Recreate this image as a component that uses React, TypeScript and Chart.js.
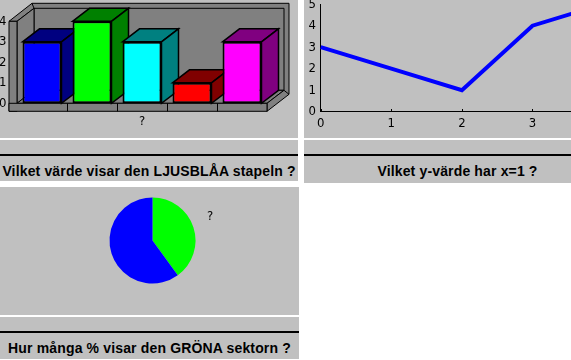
import React, { useEffect, useRef } from "react";
import { Chart, registerables } from "chart.js";
Chart.register(...registerables);

// ---------- data ----------
const barCategories = ["A", "B", "C", "D", "E"];
const barValues = [3, 4, 3, 1, 3];
const barFrontColors = ["#0000ff", "#00ff00", "#00ffff", "#ff0000", "#ff00ff"];
const barDepthColors = ["#000080", "#008000", "#008080", "#800000", "#800080"];
const barAxisTitle = "?";

const lineLabels = ["0", "1", "2", "3", "4"];
const lineValues = [3, 2, 1, 4, 5];

const pieLabels = ["Grön", "Blå"];
const pieValues = [40, 60];
const pieColors = ["#00ff00", "#0000ff"];
const pieLabelText = "?";

const questionBar = "Vilket värde visar den LJUSBLÅA stapeln ?";
const questionLine = "Vilket y-värde har x=1 ?";
const questionPie = "Hur många % visar den GRÖNA sektorn ?";

// ---------- styling ----------
const GRAY = "#c0c0c0";
const WALL = "#808080";
const TICK_FONT = { family: '"Liberation Sans Narrow", "DejaVu Sans Condensed", "Liberation Sans", sans-serif', size: 13 };
const DX = 17;
const DY = 13;
const SLAB = 8;

const frame3d = {
  id: "frame3d",
  beforeDatasetsDraw(chart: any) {
    const { ctx } = chart;
    const { left: L, right: R, top: T, bottom: B } = chart.chartArea;
    const poly = (pts: number[][], fill: string, lw = 1) => {
      ctx.beginPath();
      pts.forEach(([x, y], i) => (i ? ctx.lineTo(x, y) : ctx.moveTo(x, y)));
      ctx.closePath();
      ctx.fillStyle = fill;
      ctx.fill();
      ctx.lineWidth = lw;
      ctx.strokeStyle = "#000";
      ctx.stroke();
    };
    ctx.save();
    // back wall (outer rim and inner face)
    poly([[L + DX - 2, T - DY - 5], [R + DX + 5, T - DY - 5], [R + DX + 5, B - DY + 4], [L + DX - 2, B - DY + 4]], WALL);
    poly([[L + DX, T - DY], [R + DX, T - DY], [R + DX, B - DY], [L + DX, B - DY]], WALL);
    // left wall
    poly([[L - SLAB, T], [L + DX - 2, T - DY - 5], [L + DX, T - DY], [L, T]], WALL);
    poly([[L, T], [L + DX, T - DY], [L + DX, B - DY], [L, B]], WALL);
    poly([[L - SLAB, T], [L, T], [L, B + SLAB], [L - SLAB, B + SLAB]], WALL);
    // floor
    poly([[L, B], [L + DX, B - DY], [R + DX, B - DY], [R, B]], WALL);
    poly([[R, B], [R + DX, B - DY], [R + DX + 5, B - DY + 4], [R, B + SLAB]], WALL);
    poly([[L - SLAB, B], [R, B], [R, B + SLAB], [L - SLAB, B + SLAB]], WALL);
    const xs = chart.scales.x;
    ctx.beginPath();
    for (let i = 0; i < barValues.length - 1; i++) {
      const px = Math.round((xs.getPixelForValue(i) + xs.getPixelForValue(i + 1)) / 2) + 0.5;
      ctx.moveTo(px, B);
      ctx.lineTo(px, B + SLAB);
    }
    ctx.lineWidth = 1;
    ctx.stroke();
    // bar depth faces
    const meta = chart.getDatasetMeta(0);
    meta.data.forEach((bar: any, i: number) => {
      const { x, y, width, base } = bar.getProps(["x", "y", "width", "base"], true);
      const xl = x - width / 2;
      const xr = x + width / 2;
      poly([[xl, y], [xl + DX, y - DY], [xr + DX, y - DY], [xr, y]], barDepthColors[i], 1.5);
      poly([[xr, y], [xr + DX, y - DY], [xr + DX, base - DY], [xr, base]], barDepthColors[i], 1.5);
    });
    ctx.restore();
  },
};

const innerTicks = {
  id: "innerTicks",
  afterDraw(chart: any) {
    const { ctx } = chart;
    const xs = chart.scales.x;
    const b = Math.round(chart.chartArea.bottom);
    ctx.save();
    ctx.strokeStyle = "#000";
    ctx.lineWidth = 1;
    ctx.beginPath();
    xs.ticks.forEach((_t: any, i: number) => {
      const px = Math.round(xs.getPixelForTick(i)) + 0.5;
      ctx.moveTo(px, b);
      ctx.lineTo(px, b - 3);
    });
    ctx.stroke();
    ctx.restore();
  },
};

function BarChart() {
  const ref = useRef<HTMLCanvasElement>(null);
  useEffect(() => {
    const chart = new Chart(ref.current!, {
      type: "bar",
      data: {
        labels: barCategories,
        datasets: [
          {
            data: barValues,
            backgroundColor: barFrontColors,
            borderColor: "#000",
            borderWidth: 2,
            borderSkipped: false,
            barPercentage: 0.78,
            categoryPercentage: 1,
          },
        ],
      },
      options: {
        responsive: false,
        animation: false,
        devicePixelRatio: 1,
        layout: { padding: { top: 21.3, right: 31, left: 0, bottom: 0 } },
        plugins: { legend: { display: false }, tooltip: { enabled: false } },
        scales: {
          x: {
            grid: { display: false },
            border: { display: false },
            ticks: { display: false },
            title: { display: true, text: barAxisTitle, color: "#000", font: TICK_FONT, padding: { top: 0, bottom: 8.2 } },
            afterFit: (s: any) => { s.height = 34.7; },
          },
          y: {
            min: 0,
            max: 4,
            grid: { display: false, drawTicks: false },
            border: { display: false },
            ticks: { stepSize: 1, color: "#000", font: TICK_FONT, padding: 10.5 },
            afterFit: (s: any) => { s.width = 17; s.paddingTop = 0; s.paddingBottom = 0; },
          },
        },
      },
      plugins: [frame3d],
    } as any);
    return () => chart.destroy();
  }, []);
  return <canvas ref={ref} width={298} height={138} style={{ display: "block" }} />;
}

function LineChart() {
  const ref = useRef<HTMLCanvasElement>(null);
  useEffect(() => {
    const chart = new Chart(ref.current!, {
      type: "line",
      data: {
        labels: lineLabels,
        datasets: [
          {
            data: lineValues,
            borderColor: "#0000ff",
            borderWidth: 4,
            pointRadius: 0,
            tension: 0,
            fill: false,
          },
        ],
      },
      options: {
        responsive: false,
        animation: false,
        devicePixelRatio: 1,
        layout: { padding: { top: 4.2, right: 7.9, left: 0, bottom: 0 } },
        plugins: { legend: { display: false }, tooltip: { enabled: false } },
        scales: {
          x: {
            offset: false,
            grid: { display: false, drawTicks: false },
            border: { display: true, color: "#000", width: 1 },
            ticks: { color: "#000", font: TICK_FONT, padding: 3.8, maxRotation: 0, autoSkip: false },
            afterFit: (s: any) => { s.height = 26.3; s.paddingLeft = 0; s.paddingRight = 0; },
          },
          y: {
            min: 0,
            max: 5,
            grid: { display: false, drawTicks: false },
            border: { display: true, color: "#000", width: 1 },
            ticks: { stepSize: 1, color: "#000", font: TICK_FONT, padding: 4.7 },
            afterFit: (s: any) => { s.width = 16.7; s.paddingTop = 0; s.paddingBottom = 0; },
          },
        },
      },
      plugins: [innerTicks],
    } as any);
    return () => chart.destroy();
  }, []);
  return <canvas ref={ref} width={307} height={138} style={{ display: "block" }} />;
}

function PieChart() {
  const ref = useRef<HTMLCanvasElement>(null);
  useEffect(() => {
    const chart = new Chart(ref.current!, {
      type: "pie",
      data: {
        labels: pieLabels,
        datasets: [
          {
            data: pieValues,
            backgroundColor: pieColors,
            borderWidth: 0,
            hoverOffset: 0,
          },
        ],
      },
      options: {
        responsive: false,
        animation: false,
        devicePixelRatio: 1,
        radius: 43,
        layout: { padding: { left: 6, right: 0, top: 0, bottom: 21 } },
        plugins: { legend: { display: false }, tooltip: { enabled: false } },
      },
    } as any);
    return () => chart.destroy();
  }, []);
  return <canvas ref={ref} width={299} height={128} style={{ display: "block" }} />;
}

const questionStyle: React.CSSProperties = {
  position: "absolute",
  left: 0,
  right: 0,
  font: 'bold 14px "Liberation Sans", Arial, sans-serif',
  lineHeight: "14px",
  letterSpacing: "0.15px",
  textAlign: "center",
  whiteSpace: "nowrap",
  color: "#000",
};

function QuestionStrip(props: { left: number; top: number; width: number; height: number; text: string; textTop: number }) {
  const { left, top, width, height, text, textTop } = props;
  return (
    <div style={{ position: "absolute", left, top, width, height, background: GRAY }}>
      <div style={{ position: "absolute", left: 0, top: 14, width, height: 2, background: "#000" }} />
      <div style={{ ...questionStyle, top: textTop }}>{text}</div>
    </div>
  );
}

export default function App() {
  return (
    <div style={{ position: "fixed", left: 0, top: 0, width: 571, height: 360, overflow: "hidden", background: "#fff" }}>
      {/* bar panel */}
      <div style={{ position: "absolute", left: 0, top: 0, width: 298, height: 138, background: GRAY }}>
        <BarChart />
      </div>
      <QuestionStrip left={0} top={140} width={298} height={41} text={questionBar} textTop={24.1} />

      {/* line panel */}
      <div style={{ position: "absolute", left: 304, top: 0, width: 307, height: 138, background: GRAY }}>
        <LineChart />
      </div>
      <QuestionStrip left={304} top={140} width={307} height={43} text={questionLine} textTop={24.1} />

      {/* pie panel */}
      <div style={{ position: "absolute", left: 0, top: 187, width: 299, height: 128, background: GRAY }}>
        <PieChart />
        <div
          style={{
            position: "absolute",
            left: 207,
            top: 22.2,
            font: '13px "Liberation Sans Narrow", "DejaVu Sans Condensed", sans-serif',
            lineHeight: "14px",
            color: "#000",
          }}
        >
          {pieLabelText}
        </div>
      </div>
      <QuestionStrip left={0} top={317} width={299} height={42} text={questionPie} textTop={24.4} />
    </div>
  );
}
